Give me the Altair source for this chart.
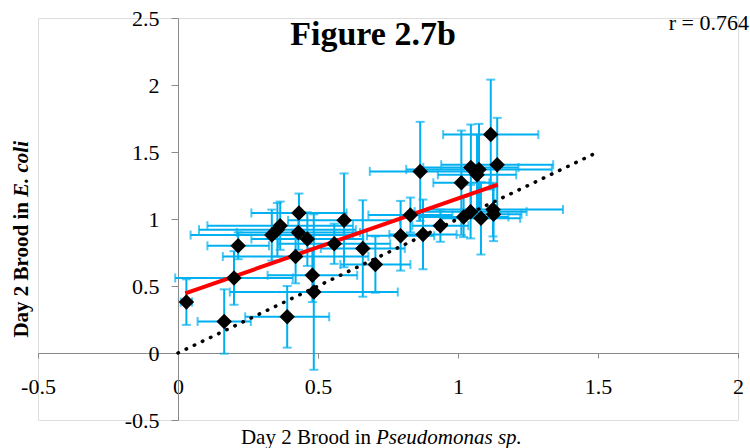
import altair as alt
import pandas as pd

# Values
x_vals = [0.03, 0.165, 0.20, 0.215, 0.39, 0.335, 0.355, 0.365, 0.42, 0.43, 0.432, 0.462,
          0.48, 0.485, 0.558, 0.593, 0.66, 0.705, 0.795, 0.83, 0.865, 0.875, 0.937,
          1.012, 1.02, 1.045, 1.046, 1.068, 1.075, 1.082, 1.117, 1.125, 1.127, 1.14]
y_vals = [0.38, 0.235, 0.56, 0.80, 0.27, 0.88, 0.92, 0.95, 0.72, 0.90, 1.045, 0.85,
          0.58, 0.455, 0.815, 0.99, 0.78, 0.66, 0.875, 1.03, 1.355, 0.885, 0.95,
          1.27, 1.015, 1.055, 1.385, 1.33, 1.37, 1.005, 1.63, 1.07, 1.035, 1.405]
x_err = [0.02, 0.095, 0.21, 0.11, 0.15, 0.29, 0.28, 0.26, 0.26, 0.22, 0.17, 0.20,
         0.16, 0.30, 0.20, 0.20, 0.15, 0.125, 0.12, 0.15, 0.18, 0.12, 0.10,
         0.10, 0.16, 0.20, 0.17, 0.14, 0.26, 0.14, 0.17, 0.25, 0.10, 0.20]
y_err = [0.17, 0.24, 0.20, 0.10, 0.23, 0.19, 0.20, 0.18, 0.20, 0.13, 0.145, 0.20,
         0.20, 0.58, 0.15, 0.35, 0.36, 0.21, 0.26, 0.13, 0.37, 0.26, 0.12,
         0.39, 0.15, 0.20, 0.32, 0.30, 0.34, 0.27, 0.41, 0.20, 0.20, 0.35]

trend_x = [0.026, 1.142]
trend_y = [0.445, 1.256]
identity_x = [0.0, 1.5]
identity_y = [0.0, 1.5]

x_ticks = [-0.5, 0, 0.5, 1, 1.5, 2]
y_ticks = [-0.5, 0, 0.5, 1, 1.5, 2, 2.5]

df = pd.DataFrame({"x": x_vals, "y": y_vals, "xe": x_err, "ye": y_err})
df["xlo"] = df["x"] - df["xe"]
df["xhi"] = df["x"] + df["xe"]
df["ylo"] = df["y"] - df["ye"]
df["yhi"] = df["y"] + df["ye"]

trend_df = pd.DataFrame({"x": trend_x, "y": trend_y})
ident_df = pd.DataFrame({"x": identity_x, "y": identity_y})

W, H = 700, 402
FONT = "Liberation Serif"
AXIS_GRAY = "#8a8a8a"
BLUE = "#00B0F0"

xs = alt.Scale(domain=[-0.5, 2], nice=False, zero=False)
ys = alt.Scale(domain=[-0.5, 2.5], nice=False, zero=False)

x_axis = alt.Axis(values=x_ticks, grid=False, offset=-67, tickSize=5, labelPadding=18,
                  labelFont=FONT, labelFontSize=22, labelColor="black",
                  labelExpr="datum.value + ''",
                  domainColor=AXIS_GRAY, tickColor=AXIS_GRAY, title=None,
                  labelFlush=False, labelOverlap=False)
y_axis = alt.Axis(values=y_ticks, grid=False, offset=-140, tickSize=7, labelPadding=12,
                  labelFont=FONT, labelFontSize=22, labelColor="black",
                  labelExpr="datum.value + ''",
                  domainColor=AXIS_GRAY, tickColor=AXIS_GRAY, title=None,
                  labelFlush=False, labelOverlap=False)

base = alt.Chart(df)

xbars = base.mark_rule(color=BLUE, strokeWidth=2).encode(
    x=alt.X("xlo:Q", scale=xs, axis=x_axis), x2="xhi:Q",
    y=alt.Y("y:Q", scale=ys, axis=y_axis))
ybars = base.mark_rule(color=BLUE, strokeWidth=2).encode(
    x=alt.X("x:Q", scale=xs), y=alt.Y("ylo:Q", scale=ys), y2="yhi:Q")

ycap_lo = base.mark_tick(color=BLUE, orient="horizontal", size=9, thickness=2).encode(
    x=alt.X("x:Q", scale=xs), y=alt.Y("ylo:Q", scale=ys))
ycap_hi = base.mark_tick(color=BLUE, orient="horizontal", size=9, thickness=2).encode(
    x=alt.X("x:Q", scale=xs), y=alt.Y("yhi:Q", scale=ys))
xcap_lo = base.mark_tick(color=BLUE, orient="vertical", size=9, thickness=2).encode(
    x=alt.X("xlo:Q", scale=xs), y=alt.Y("y:Q", scale=ys))
xcap_hi = base.mark_tick(color=BLUE, orient="vertical", size=9, thickness=2).encode(
    x=alt.X("xhi:Q", scale=xs), y=alt.Y("y:Q", scale=ys))

ident = alt.Chart(ident_df).mark_line(color="black", strokeWidth=3.5, strokeDash=[0.5, 8.5],
                                      strokeCap="round").encode(
    x=alt.X("x:Q", scale=xs), y=alt.Y("y:Q", scale=ys))

trend = alt.Chart(trend_df).mark_line(color="#FF0000", strokeWidth=4).encode(
    x=alt.X("x:Q", scale=xs), y=alt.Y("y:Q", scale=ys))

points = base.mark_point(shape="diamond", filled=True, color="black", size=240, opacity=1).encode(
    x=alt.X("x:Q", scale=xs), y=alt.Y("y:Q", scale=ys))

title_txt = alt.Chart(pd.DataFrame({"t": ["Figure 2.7b"]})).mark_text(
    font=FONT, fontSize=34, fontWeight="bold", align="center", baseline="middle").encode(
    text="t:N", x=alt.value(335), y=alt.value(17))
r_txt = alt.Chart(pd.DataFrame({"t": ["r = 0.764"]})).mark_text(
    font=FONT, fontSize=22, align="right", baseline="middle").encode(
    text="t:N", x=alt.value(711), y=alt.value(5))

xt1 = alt.Chart(pd.DataFrame({"t": ["Day 2 Brood in"]})).mark_text(
    font=FONT, fontSize=21, align="right", baseline="middle").encode(
    text="t:N", x=alt.value(333), y=alt.value(420))
xt2 = alt.Chart(pd.DataFrame({"t": ["Pseudomonas sp."]})).mark_text(
    font=FONT, fontSize=21, fontStyle="italic", align="left", baseline="middle").encode(
    text="t:N", x=alt.value(338), y=alt.value(420))

yt1 = alt.Chart(pd.DataFrame({"t": ["Day 2 Brood in"]})).mark_text(
    font=FONT, fontSize=21, fontWeight="bold", angle=270, align="right", baseline="middle").encode(
    text="t:N", x=alt.value(-16), y=alt.value(184))
yt2 = alt.Chart(pd.DataFrame({"t": ["E. coli"]})).mark_text(
    font=FONT, fontSize=21, fontWeight="bold", fontStyle="italic", angle=270, align="left",
    baseline="middle").encode(
    text="t:N", x=alt.value(-16), y=alt.value(179))

chart = alt.layer(
    xbars, ybars, ycap_lo, ycap_hi, xcap_lo, xcap_hi, ident, trend, points,
    title_txt, r_txt, xt1, xt2, yt1, yt2
).properties(
    width=W, height=H,
    autosize=alt.AutoSizeParams(type="none"),
    padding={"left": 38, "top": 18, "right": 12, "bottom": 28},
).configure_view(stroke=None).configure(
    background="white", font=FONT
).configure_axis(labelFont=FONT)

chart.save("out.html", embed_options={"renderer": "svg", "actions": False})
